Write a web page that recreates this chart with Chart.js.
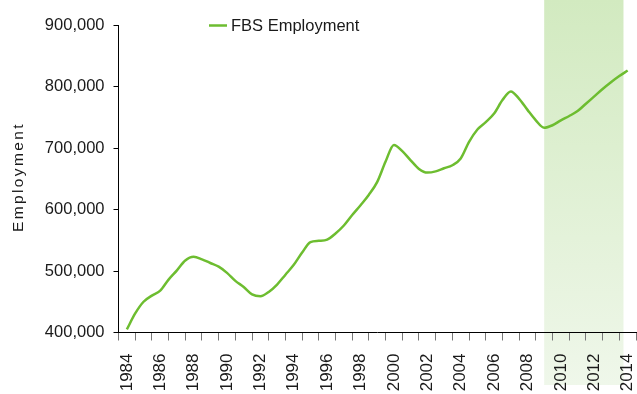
<!DOCTYPE html>
<html>
<head>
<meta charset="utf-8">
<script src="https://cdn.jsdelivr.net/npm/chart.js@4"></script>
<style>
  html, body { margin: 0; padding: 0; background: #fff; }
  #wrap { width: 637px; height: 394px; }
</style>
</head>
<body>
<div id="wrap"><canvas id="c" width="637" height="394"></canvas></div>
<script>
// Zeitpunkte (Jahr, halbjährlich) und Beschäftigung
const years = [
  1984.5, 1985, 1985.5, 1986, 1986.5, 1987, 1987.5, 1988, 1988.5, 1989,
  1989.5, 1990, 1990.5, 1991, 1991.5, 1992, 1992.5, 1993, 1993.5, 1994,
  1994.5, 1995, 1995.5, 1996, 1996.5, 1997, 1997.5, 1998, 1998.5, 1999,
  1999.5, 2000, 2000.5, 2001, 2001.5, 2002, 2002.5, 2003, 2003.5, 2004,
  2004.5, 2005, 2005.5, 2006, 2006.5, 2007, 2007.5, 2008, 2008.5, 2009,
  2009.5, 2010, 2010.5, 2011, 2011.5, 2012, 2012.5, 2013, 2013.5, 2014, 2014.5
];
const employment = [
  405000, 431000, 450000, 460000, 468000, 486000, 501000, 517000, 523000, 519000,
  513000, 507000, 497000, 484000, 474000, 462000, 459000, 466000, 478000, 494000,
  510000, 530000, 547000, 549000, 551000, 561000, 574000, 591000, 607000, 624000,
  645000, 678000, 705000, 695000, 680000, 666000, 660000, 662000, 667000, 672000,
  683000, 710000, 730000, 742000, 756000, 778000, 792000, 780000, 762000, 745000,
  733000, 737000, 745000, 752000, 760000, 772000, 784000, 796000, 807000, 817000, 826000
];
const tickYears = [1984, 1986, 1988, 1990, 1992, 1994, 1996, 1998, 2000, 2002, 2004, 2006, 2008, 2010, 2012, 2014];
const forecastRange = [2009.5, 2014.25];
const seriesName = 'FBS Employment';
const yTitle = 'Employment';

const green = '#6dbd30';
const FONT = 'Liberation Sans, Arial, sans-serif';

// Schattierter Prognosebereich, hinter Achsen und Beschriftung
const shadePlugin = {
  id: 'shade',
  beforeDraw(chart) {
    const x = chart.scales.x;
    const ctx = chart.ctx;
    const x0 = x.getPixelForValue(forecastRange[0]);
    const x1 = x.getPixelForValue(forecastRange[1]);
    const g = ctx.createLinearGradient(0, 0, 0, 385);
    g.addColorStop(0, '#d2eac0');
    g.addColorStop(1, '#eff7ea');
    ctx.save();
    ctx.fillStyle = g;
    ctx.fillRect(x0, 0, x1 - x0, 385);
    ctx.restore();
  }
};

// Legende und Achsentitel von Hand
const labelsPlugin = {
  id: 'labels',
  afterDraw(chart) {
    const ctx = chart.ctx;
    ctx.save();
    ctx.strokeStyle = green;
    ctx.lineWidth = 2.5;
    ctx.beginPath();
    ctx.moveTo(209, 25.5);
    ctx.lineTo(227, 25.5);
    ctx.stroke();
    ctx.fillStyle = '#1a1a1a';
    ctx.font = '16.5px ' + FONT;
    ctx.textBaseline = 'middle';
    ctx.fillText(seriesName, 231, 26.5);

    ctx.translate(19, 177);
    ctx.rotate(-Math.PI / 2);
    ctx.textAlign = 'center';
    ctx.font = '15.5px ' + FONT;
    ctx.letterSpacing = '2.4px';
    ctx.fillText(yTitle, 0, 0);
    ctx.restore();
  }
};

new Chart(document.getElementById('c'), {
  type: 'line',
  data: {
    datasets: [{
      label: seriesName,
      data: years.map((y, i) => ({ x: y, y: employment[i] })),
      borderColor: green,
      borderWidth: 2.5,
      pointRadius: 0,
      cubicInterpolationMode: 'monotone',
      fill: false
    }]
  },
  options: {
    responsive: false,
    animation: false,
    layout: { padding: { left: 0, right: 1, top: 25, bottom: 0 } },
    plugins: {
      legend: { display: false },
      tooltip: { enabled: false }
    },
    scales: {
      x: {
        type: 'linear',
        min: 1984,
        max: 2015,
        afterBuildTicks(scale) {
          const t = [];
          for (let v = 1984; v <= 2015; v += 0.5) t.push({ value: v });
          scale.ticks = t;
        },
        afterFit(scale) {
          scale.height = 61.5;
          scale.paddingRight = 0;
          scale.paddingLeft = 0;
        },
        border: { color: '#000', width: 1 },
        grid: {
          drawOnChartArea: false,
          tickLength: 8,
          color: ctx => (ctx.tick && Number.isInteger(ctx.tick.value)) ? '#777' : 'rgba(0,0,0,0)'
        },
        ticks: {
          autoSkip: false,
          minRotation: 90,
          maxRotation: 90,
          padding: 13,
          color: '#1a1a1a',
          font: { family: FONT, size: 17 },
          callback: v => {
            const yr = v - 0.5;
            return tickYears.includes(yr) ? String(yr) : '';
          }
        }
      },
      y: {
        min: 400000,
        max: 900000,
        afterFit(scale) { scale.width = 118.5; },
        border: { color: '#000', width: 1 },
        grid: { drawOnChartArea: false, tickLength: 5, color: '#000' },
        ticks: {
          stepSize: 100000,
          padding: 9,
          color: '#1a1a1a',
          font: { family: FONT, size: 16.5 },
          callback: v => v.toLocaleString('en-US')
        }
      }
    }
  },
  plugins: [shadePlugin, labelsPlugin]
});
</script>
</body>
</html>
